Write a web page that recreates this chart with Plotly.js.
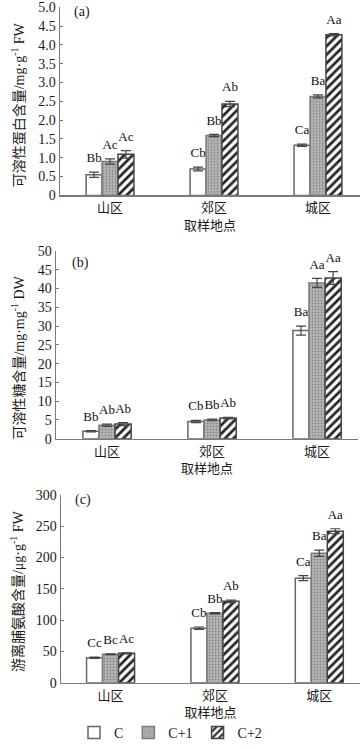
<!DOCTYPE html>
<html>
<head>
<meta charset="utf-8">
<script src="https://cdn.plot.ly/plotly-3.0.1.min.js"></script>
<style>html,body{margin:0;padding:0;background:#fff;}#chart{width:362px;height:749px;}</style>
</head>
<body>
<div id="chart"></div>
<script>
// ---- data ----
const categories = ['山区', '郊区', '城区'];
const seriesNames = ['C', 'C+1', 'C+2'];

const proteinC = [0.55, 0.70, 1.33];
const proteinC1 = [0.90, 1.59, 2.63];
const proteinC2 = [1.09, 2.43, 4.27];
const proteinErrC = [0.07, 0.05, 0.03];
const proteinErrC1 = [0.07, 0.03, 0.04];
const proteinErrC2 = [0.10, 0.07, 0.03];
const proteinLabC = ['Bb', 'Cb', 'Ca'];
const proteinLabC1 = ['Ac', 'Bb', 'Ba'];
const proteinLabC2 = ['Ac', 'Ab', 'Aa'];

const sugarC = [2.0, 4.6, 28.8];
const sugarC1 = [3.6, 5.0, 41.5];
const sugarC2 = [3.9, 5.5, 42.8];
const sugarErrC = [0.2, 0.3, 1.2];
const sugarErrC1 = [0.3, 0.2, 1.2];
const sugarErrC2 = [0.4, 0.2, 1.7];
const sugarLabC = ['Bb', 'Cb', 'Ba'];
const sugarLabC1 = ['Ab', 'Bb', 'Aa'];
const sugarLabC2 = ['Ab', 'Ab', 'Aa'];

const prolineC = [40, 87, 167];
const prolineC1 = [45.5, 111, 207];
const prolineC2 = [47, 130, 242];
const prolineErrC = [1, 2, 4];
const prolineErrC1 = [0.8, 1, 5];
const prolineErrC2 = [0.8, 2, 4];
const prolineLabC = ['Cc', 'Cb', 'Ca'];
const prolineLabC1 = ['Bc', 'Bb', 'Ba'];
const prolineLabC2 = ['Ac', 'Ab', 'Aa'];

const proteinTicks = [0, 0.5, 1.0, 1.5, 2.0, 2.5, 3.0, 3.5, 4.0, 4.5, 5.0];
const proteinTickText = ['0', '0.5', '1.0', '1.5', '2.0', '2.5', '3.0', '3.5', '4.0', '4.5', '5.0'];
const sugarTicks = [0, 5, 10, 15, 20, 25, 30, 35, 40, 45, 50];
const prolineTicks = [0, 50, 100, 150, 200, 250, 300];

// ---- styling ----
const FONT = '"Liberation Serif", "Noto Sans CJK SC", serif';
const W = 362, H = 749;
const markers = [
  {color: '#ffffff', line: {color: '#666', width: 1.5}},
  {color: '#aaaaaa', line: {color: '#7a7a7a', width: 1.5},
   pattern: {shape: '.', fgcolor: '#888888', bgcolor: '#b8b8b8', size: 3, solidity: 0.35}},
  {color: '#ffffff', line: {color: '#444', width: 1.5},
   pattern: {shape: '/', fgcolor: '#222', bgcolor: '#ffffff', size: 6, solidity: 0.45}}
];

const panels = [
  {vals: [proteinC, proteinC1, proteinC2], errs: [proteinErrC, proteinErrC1, proteinErrC2],
   labs: [proteinLabC, proteinLabC1, proteinLabC2], range: [0, 5], tickvals: proteinTicks, ticktext: proteinTickText,
   xpx: [60, 360], ypx: [7.3, 196.7], xr: [-0.481, 2.404], tag: '(a)', tagpx: [82, 12],
   ytitle: '可溶性蛋白含量/mg·g<sup>-1</sup> FW', ytpx: [18, 106]},
  {vals: [sugarC, sugarC1, sugarC2], errs: [sugarErrC, sugarErrC1, sugarErrC2],
   labs: [sugarLabC, sugarLabC1, sugarLabC2], range: [0, 50], tickvals: sugarTicks, ticktext: sugarTicks.map(String),
   xpx: [56, 358], ypx: [252.7, 441.7], xr: [-0.486, 2.39], tag: '(b)', tagpx: [80, 265],
   ytitle: '可溶性糖含量/mg·mg<sup>-1</sup> DW', ytpx: [18, 360]},
  {vals: [prolineC, prolineC1, prolineC2], errs: [prolineErrC, prolineErrC1, prolineErrC2],
   labs: [prolineLabC, prolineLabC1, prolineLabC2], range: [0, 300], tickvals: prolineTicks, ticktext: prolineTicks.map(String),
   xpx: [61, 360], ypx: [498.3, 687.3], xr: [-0.475, 2.39], tag: '(c)', tagpx: [83, 503],
   ytitle: '游离脯氨酸含量/μg·g<sup>-1</sup> FW', ytpx: [17, 595]}
];

const traces = [];
const layout = {
  width: W, height: H,
  margin: {l: 0, r: 0, t: 0, b: 0},
  paper_bgcolor: '#fff', plot_bgcolor: '#fff',
  barmode: 'group', bargap: 0.54, bargroupgap: 0,
  scattermode: 'group', scattergap: 0.54,
  font: {family: FONT, color: '#1a1a1a', size: 13},
  showlegend: true,
  legend: {orientation: 'h', x: 74 / W, xanchor: 'left', y: 1 - 738 / H, yanchor: 'middle',
           font: {family: FONT, size: 14, color: '#1a1a1a'}, itemwidth: 30, traceorder: 'normal',
           bgcolor: 'rgba(0,0,0,0)'},
  annotations: []
};

panels.forEach((p, k) => {
  const sfx = k === 0 ? '' : String(k + 1);
  const xa = 'x' + sfx, ya = 'y' + sfx;
  for (let j = 0; j < 3; j++) {
    traces.push({
      type: 'bar', x: categories, y: p.vals[j], name: seriesNames[j], legendgroup: seriesNames[j],
      showlegend: k === 0, xaxis: xa, yaxis: ya, marker: markers[j],
      error_y: {type: 'data', array: p.errs[j], visible: true, color: '#444', thickness: 1.2, width: 5},
      hoverinfo: 'skip'
    });
  }
  for (let j = 0; j < 3; j++) {
    traces.push({
      type: 'scatter', mode: 'markers+text', x: categories,
      y: p.vals[j].map((v, i) => v + p.errs[j][i]),
      text: p.labs[j], textposition: 'top center',
      marker: {size: 9, opacity: 0},
      textfont: {family: FONT, size: 13, color: '#111'},
      showlegend: false, xaxis: xa, yaxis: ya, hoverinfo: 'skip', cliponaxis: false
    });
  }
  layout['xaxis' + sfx] = {
    domain: [p.xpx[0] / W, p.xpx[1] / W], anchor: ya, type: 'category', range: p.xr,
    showline: true, linecolor: '#7a7a7a', linewidth: 1.5, ticks: '', showgrid: false,
    tickfont: {family: FONT, size: 13, color: '#1a1a1a'},
    title: {text: '取样地点', font: {family: FONT, size: 13, color: '#1a1a1a'}, standoff: 6}
  };
  layout['yaxis' + sfx] = {
    domain: [1 - p.ypx[1] / H, 1 - p.ypx[0] / H], anchor: xa, range: p.range,
    tickvals: p.tickvals, ticktext: p.ticktext, ticks: 'inside', ticklen: 3, tickcolor: '#7a7a7a',
    showline: true, linecolor: '#7a7a7a', linewidth: 1.5, showgrid: false, zeroline: false,
    tickfont: {family: FONT, size: 14, color: '#1a1a1a'}
  };
  layout.annotations.push({
    text: p.tag, xref: 'paper', yref: 'paper', x: p.tagpx[0] / W, y: 1 - p.tagpx[1] / H,
    xanchor: 'center', yanchor: 'middle', showarrow: false, font: {family: FONT, size: 14, color: '#1a1a1a'}
  });
  layout.annotations.push({
    text: p.ytitle, xref: 'paper', yref: 'paper', x: p.ytpx[0] / W, y: 1 - p.ytpx[1] / H,
    xanchor: 'center', yanchor: 'middle', textangle: -90, showarrow: false,
    font: {family: FONT, size: 14, color: '#1a1a1a'}
  });
});

Plotly.newPlot('chart', traces, layout, {staticPlot: true, displayModeBar: false});
</script>
</body>
</html>
